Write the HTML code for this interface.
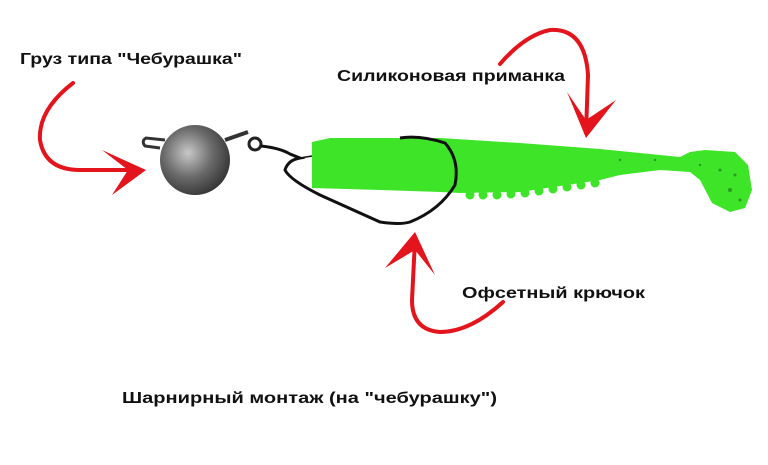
<!DOCTYPE html>
<html><head><meta charset="utf-8"><style>
body{margin:0;background:#fff}
svg{display:block}
text{font-family:"Liberation Sans","DejaVu Sans",sans-serif;font-weight:bold;font-size:16px;fill:#111}
</style></head><body>
<svg width="768" height="465" viewBox="0 0 768 465">
<defs>
<radialGradient id="ball" cx="0.4" cy="0.4" r="0.7">
<stop offset="0" stop-color="#c8c8c8"/><stop offset="0.5" stop-color="#6a6a6a"/><stop offset="1" stop-color="#2a2a2a"/>
</radialGradient>
</defs>
<!-- worm -->
<path d="M312,142 L330,138 L440,138 L520,143 L600,149 L640,153 L680,157 L690,152 L705,150 L735,152 L748,165 L752,190 L745,208 L730,212 L712,203 L700,180 L690,172 L660,170 L620,175 L600,180 L560,186 L520,192 L460,193 L440,192 L380,190 L312,188 Z" fill="#3ee428"/>
<g fill="#3ee428"><circle cx="470" cy="195" r="4.5"/><circle cx="483" cy="195" r="4.5"/><circle cx="497" cy="195" r="4.5"/><circle cx="511" cy="194" r="4.5"/><circle cx="525" cy="193" r="4.5"/><circle cx="539" cy="191" r="4.5"/><circle cx="553" cy="189" r="4.5"/><circle cx="567" cy="187" r="4.5"/><circle cx="581" cy="185" r="4.5"/><circle cx="595" cy="183" r="4.5"/></g>
<g fill="#1a6a1a" opacity="0.6"><circle cx="720" cy="170" r="1.5"/><circle cx="730" cy="190" r="2"/><circle cx="740" cy="200" r="1.5"/><circle cx="700" cy="165" r="1.2"/><circle cx="655" cy="160" r="1.2"/><circle cx="620" cy="160" r="1.2"/><circle cx="735" cy="175" r="1.5"/></g>
<!-- ball -->
<path d="M160,148 L145,146 Q141,141 146,138 L165,140" fill="none" stroke="#333" stroke-width="3"/>
<path d="M225,140 L248,132" fill="none" stroke="#333" stroke-width="4"/>
<circle cx="195" cy="160" r="35" fill="url(#ball)"/>
<circle cx="255" cy="144" r="6" fill="none" stroke="#222" stroke-width="3"/>
<!-- hook -->
<path d="M261,146 Q280,148 290,154 L300,158 Q288,160 285,170 Q290,180 320,195 L380,222 Q400,225 410,222 Q440,210 455,185 Q460,160 445,143 Q420,135 400,138" fill="none" stroke="#111" stroke-width="3"/>
<path d="M300,158 L312,156" stroke="#111" stroke-width="1.5"/>
<!-- arrows -->
<g fill="none" stroke="#e3141b" stroke-width="4" stroke-linecap="round">
<path d="M73,83 Q38,110 40,140 Q45,170 80,170 L138,170"/>
<path d="M500,64 Q525,35 550,30 Q585,28 588,75 L586,133"/>
<path d="M503,302 Q470,332 440,332 Q412,330 412,300 L415,240"/>
</g>
<g fill="#e3141b">
<path d="M146,170 L102,150 L128,170 L112,195 Z"/>
<path d="M586,138 L567,92 L586,120 L616,100 Z"/>
<path d="M415,232 L385,268 L415,250 L435,275 Z"/>
</g>
<text x="20" y="64" textLength="222" lengthAdjust="spacingAndGlyphs">Груз типа "Чебурашка"</text>
<text x="337" y="81" textLength="228" lengthAdjust="spacingAndGlyphs">Силиконовая приманка</text>
<text x="462" y="298" textLength="183" lengthAdjust="spacingAndGlyphs">Офсетный крючок</text>
<text x="122" y="403" textLength="375" lengthAdjust="spacingAndGlyphs">Шарнирный монтаж (на "чебурашку")</text>
</svg>
</body></html>
